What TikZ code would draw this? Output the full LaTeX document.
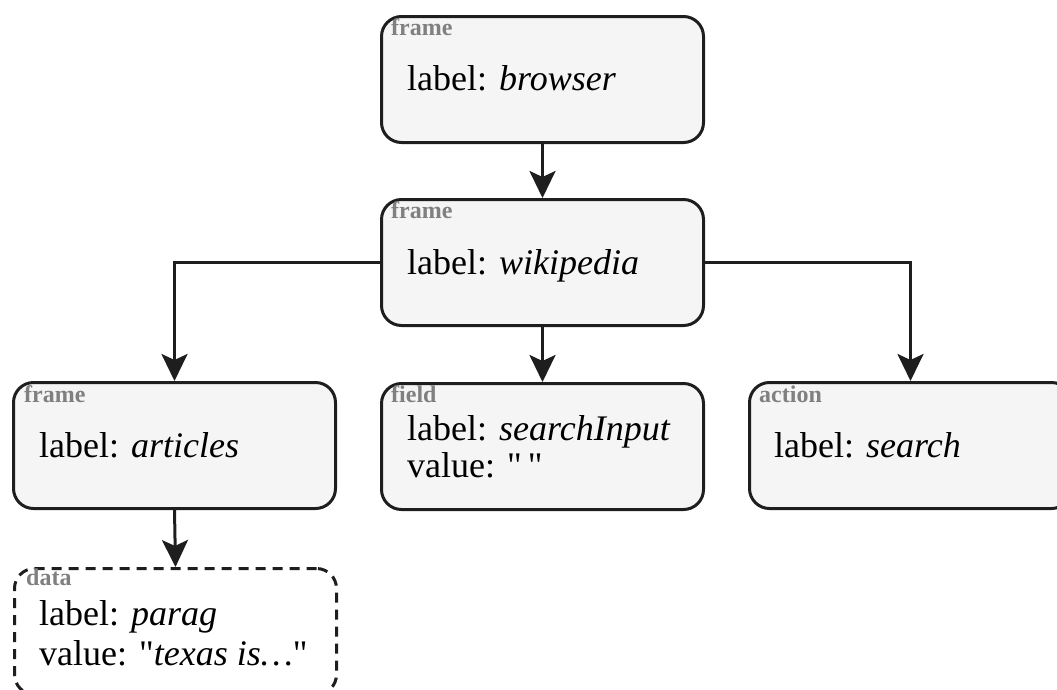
\documentclass[tikz,border=0pt]{standalone}
\usepackage{fontspec}
\setmainfont{Liberation Serif}
\usetikzlibrary{arrows.meta}
\definecolor{boxfill}{HTML}{F5F5F5}
\definecolor{hdrgray}{HTML}{808080}
\definecolor{edge}{HTML}{1E1E1E}
\begin{document}
\begin{tikzpicture}[x=1pt,y=-1pt,
 box/.style={draw=edge, line width=3pt, fill=boxfill, rounded corners=20pt,
   minimum width=322pt, minimum height=126pt, anchor=north west, inner sep=0pt},
 databox/.style={box, fill=white, dash pattern=on 10pt off 7pt},
 hdr/.style={anchor=base west, inner sep=0pt, text=hdrgray,
   font=\fontsize{24}{24}\selectfont\bfseries},
 lbl/.style={anchor=base west, inner sep=0pt, font=\fontsize{36}{36}\selectfont\rmfamily},
 conn/.style={draw=edge, line width=3pt, -{Stealth[length=27pt,width=26pt,inset=6pt]}}]
\useasboundingbox (0,0) rectangle (1057,689);

\node[box] (b1) at (380,15) {};
\node[box] (b2) at (380,198) {};
\node[box] (b3) at (12,381) {};
\node[box] (b4) at (380,382) {};
\node[box] (b5) at (748,381) {};
\node[databox] (b6) at (13,567) {};

\node[hdr] (h1) at ([shift={(11,20)}]b1.north west) {frame};
\node[lbl] (l1) at ([shift={(27,75)}]b1.north west) {label: \textit{browser}};

\node[hdr] (h2) at ([shift={(11,20)}]b2.north west) {frame};
\node[lbl] (l2) at ([shift={(27,76)}]b2.north west) {label: \textit{wikipedia}};

\node[hdr] (h3) at ([shift={(12,21)}]b3.north west) {frame};
\node[lbl] (l3) at ([shift={(27,76)}]b3.north west) {label: \textit{articles}};

\node[hdr] (h4) at ([shift={(11,20)}]b4.north west) {field};
\node[lbl] (l4) at ([shift={(27,58)}]b4.north west) {label: \textit{searchInput}};
\node[lbl] (v4) at ([shift={(27,95)}]b4.north west) {value: \textquotedbl\,\textquotedbl};

\node[hdr] (h5) at ([shift={(11,21)}]b5.north west) {action};
\node[lbl] (l5) at ([shift={(26,76)}]b5.north west) {label: \textit{search}};

\node[hdr] (h6) at ([shift={(13,18)}]b6.north west) {data};
\node[lbl] (l6) at ([shift={(26,58)}]b6.north west) {label: \textit{parag}};
\node[lbl] (v6) at ([shift={(26,98)}]b6.north west) {value: \textquotedbl\textit{texas is…}\textquotedbl};

\draw[conn] (b1.south) -- (b2.north);
\draw[conn] (b2.west) -| (b3.north);
\draw[conn] (b2.south) -- (b4.north);
\draw[conn] (b2.east) -| (b5.north);
\draw[conn] (b3.south) -- (b6.north);
\end{tikzpicture}
\end{document}
